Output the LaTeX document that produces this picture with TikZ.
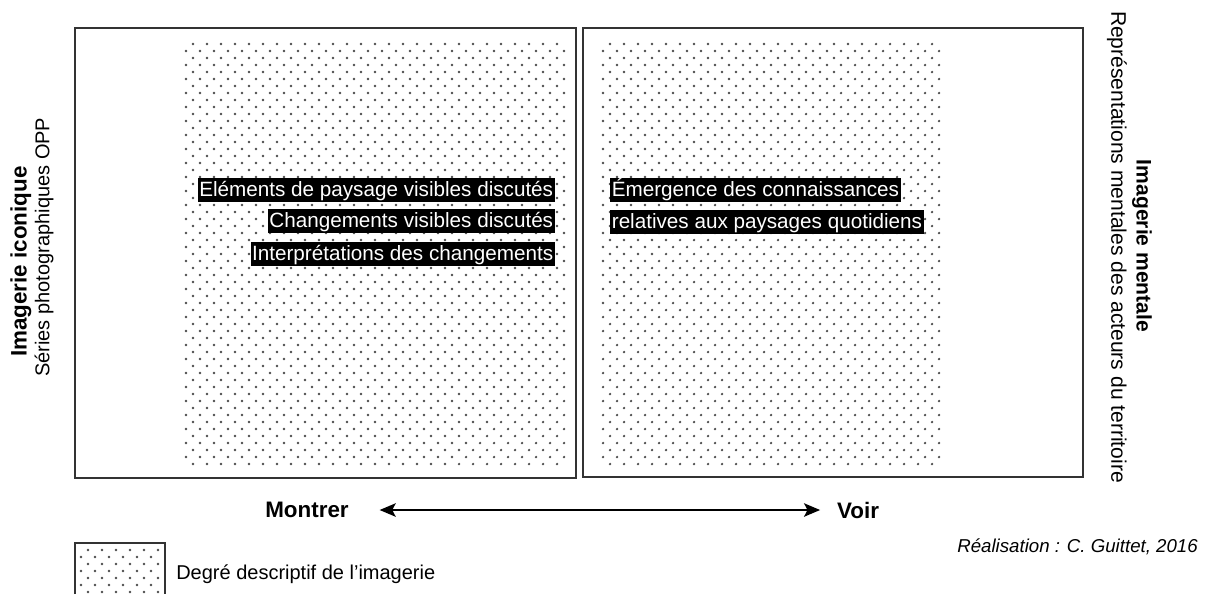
\documentclass[tikz,border=0pt]{standalone}
\usepackage{fontspec}
\setmainfont{Liberation Sans}
\usetikzlibrary{arrows.meta}
\begin{document}
\begin{tikzpicture}[x=0.75pt,y=-0.75pt,
  frame/.style={draw=black!80, line width=1.4pt},
  dotc/.style={fill=black!70},
  hl/.style={fill=black, text=white, inner xsep=1.2pt, inner ysep=0.5pt,
    text height=13.2pt, text depth=3.6pt, font=\fontsize{15.5}{18}\selectfont},
  lab/.style={font=\fontsize{15}{18}\selectfont, inner sep=0pt},
  blab/.style={font=\fontsize{16.8}{20}\selectfont\bfseries, inner sep=0pt},
  axis/.style={line width=1.6pt, >={Stealth[length=12pt,width=10pt,inset=2.5pt]}, <->}
]
\useasboundingbox (0,0) rectangle (1210,594);
\fill[white] (0,0) rectangle (1210,594);

% frames
\draw[frame] (75,28) rectangle (576,478);
\draw[frame] (583,28) rectangle (1083,477);

% dot fields
\foreach \yy in {44,58,...,464} {
  \foreach \xx in {193,207,...,557} \fill[dotc] (\xx,\yy) circle[radius=0.95pt];
  \foreach \xx in {610,624,...,932} \fill[dotc] (\xx,\yy) circle[radius=0.95pt];
}
\foreach \yy in {51,65,...,457} {
  \foreach \xx in {186,200,...,564} \fill[dotc] (\xx,\yy) circle[radius=0.95pt];
  \foreach \xx in {603,617,...,939} \fill[dotc] (\xx,\yy) circle[radius=0.95pt];
}

% highlighted texts
\node[hl, anchor=east] (l1) at (555,190) {Eléments de paysage visibles discutés};
\node[hl, anchor=east] (l2) at (555,221) {Changements visibles discutés};
\node[hl, anchor=east] (l3) at (555,254) {Interprétations des changements};
\node[hl, anchor=west] (r1) at (610,190) {Émergence des connaissances};
\node[hl, anchor=west] (r2) at (610,222) {relatives aux paysages quotidiens};

% side labels
\node[blab, rotate=90, anchor=west] (ico) at (21,357) {Imagerie iconique};
\node[lab, rotate=90, anchor=west] (opp) at (44,377) {Séries photographiques OPP};
\node[blab, font=\fontsize{15.8}{19}\selectfont\bfseries, rotate=-90, anchor=center] (men) at (1142,246) {Imagerie mentale};
\node[lab, font=\fontsize{15.8}{19}\selectfont, rotate=-90, anchor=center] (rep) at (1117,247) {Représentations mentales des acteurs du territoire};

% axis
\node[blab] (m) at (307,510) {Montrer};
\node[blab] (v) at (858,510) {Voir};
\draw[axis, shorten <=23pt, shorten >=12.5pt] (m) -- (v);

% credit
\node[font=\fontsize{14}{17}\selectfont\itshape, inner sep=0pt, anchor=east] (cr) at (1198,547) {Réalisation : C. Guittet, 2016};

% legend
\draw[frame] (75,594) -- (75,543) -- (165,543) -- (165,594);
\foreach \yy in {550,564,578,592} {
  \foreach \xx in {88,102,...,158} \fill[dotc] (\xx,\yy) circle[radius=0.95pt];
}
\foreach \yy in {557,571,585} {
  \foreach \xx in {81,95,...,151} \fill[dotc] (\xx,\yy) circle[radius=0.95pt];
}
\node[lab, anchor=west] (leg) at (176,574) {Degré descriptif de l’imagerie};
\end{tikzpicture}
\end{document}
